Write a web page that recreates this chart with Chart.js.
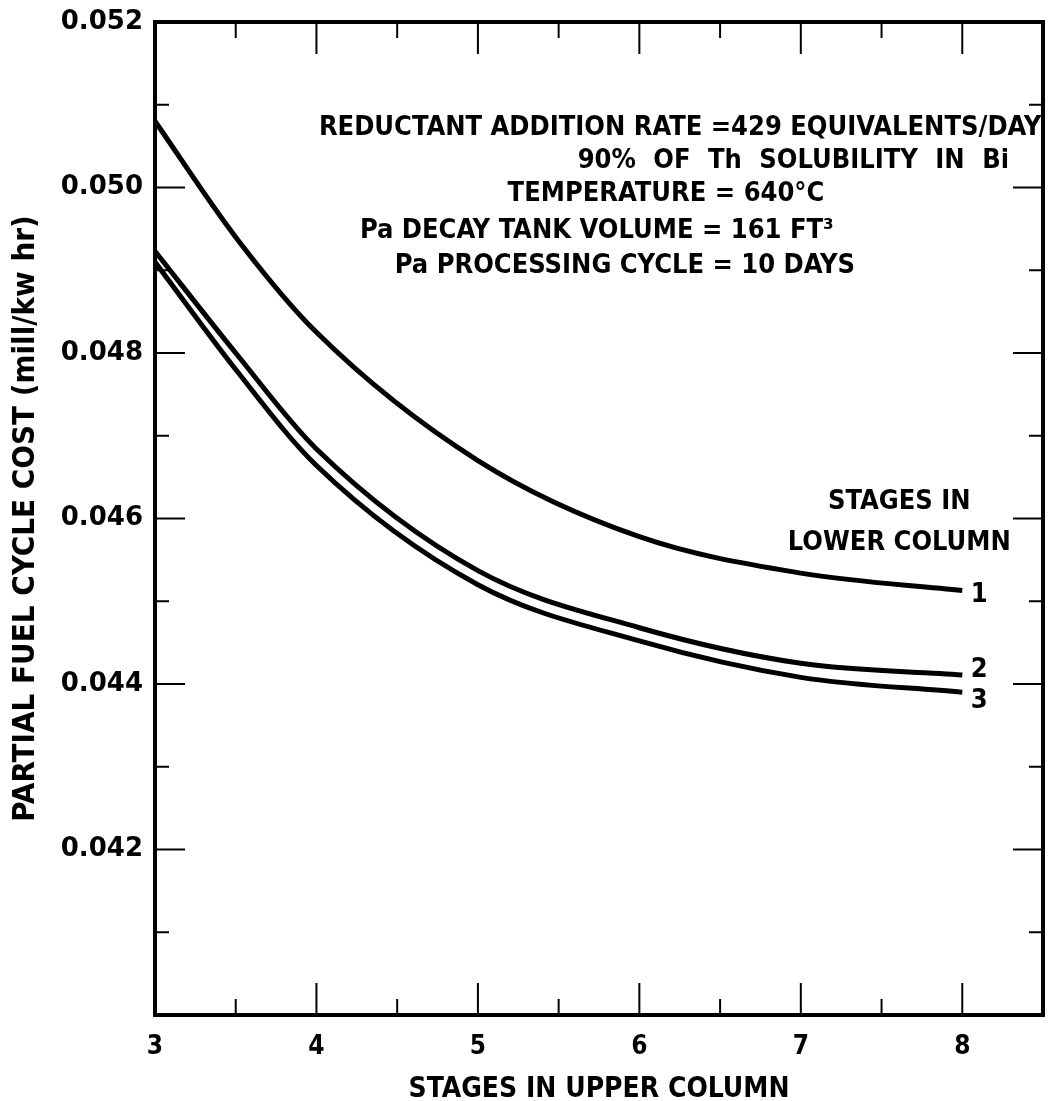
<!DOCTYPE html>
<html>
<head>
<meta charset="utf-8">
<script src="https://cdn.jsdelivr.net/npm/chart.js@4.4.0/dist/chart.umd.min.js"></script>
<style>
  html, body { margin: 0; padding: 0; background: #fff; }
  #wrap { width: 1050px; height: 1101px; position: relative; }
</style>
</head>
<body>
<div id="wrap"><canvas id="grafica"></canvas></div>
<script>
// === DATOS ===
const stagesUpper = [3, 3.5, 4, 5, 6, 7, 8];
const cost1 = [0.0508, 0.0494, 0.04825, 0.0467, 0.04578, 0.04534, 0.04513];
const cost2 = [0.04923, 0.0480, 0.04684, 0.04537, 0.04468, 0.04425, 0.04411];
const cost3 = [0.0491, 0.0478, 0.04664, 0.0452, 0.04452, 0.04408, 0.0439];
const curveLabels = ["1", "2", "3"];
const curveLabelX = [8.105, 8.105, 8.105];
const curveLabelY = [0.04507, 0.04417, 0.04379];

const noteLines = [
  "REDUCTANT ADDITION RATE =429 EQUIVALENTS/DAY",
  "90% OF Th SOLUBILITY IN Bi",
  "TEMPERATURE = 640°C",
  "Pa DECAY TANK VOLUME = 161 FT³",
  "Pa PROCESSING CYCLE = 10 DAYS"
];
const noteX = [4.015, 5.618, 5.184, 4.269, 4.485];
const noteY = [0.05072, 0.05032, 0.04992, 0.04947, 0.04905];

const legendTitle = ["STAGES IN", "LOWER COLUMN"];
const legendTitleX = 7.61;
const legendTitleY = [0.04620, 0.04570];

const FONT = '"DejaVu Sans Condensed", "DejaVu Sans", sans-serif';
const FONT_NUM = '"DejaVu Sans", sans-serif';

const toPoints = vals => stagesUpper.map((s, i) => ({ x: s, y: vals[i] }));

// marcas hacia dentro, marco y textos
const marcoPlugin = {
  id: "marco",
  afterDraw(chart) {
    const { ctx, chartArea: a, scales: { x, y } } = chart;
    ctx.save();
    ctx.strokeStyle = "#000";
    ctx.lineWidth = 2;
    const seg = (x1, y1, x2, y2) => {
      ctx.beginPath(); ctx.moveTo(x1, y1); ctx.lineTo(x2, y2); ctx.stroke();
    };
    x.ticks.forEach(t => {
      const px = x.getPixelForValue(t.value);
      if (px <= a.left + 2 || px >= a.right - 2) return;
      const len = Number.isInteger(t.value) ? 32 : 16;
      seg(px, a.bottom, px, a.bottom - len);
      seg(px, a.top, px, a.top + len);
    });
    y.ticks.forEach(t => {
      const py = y.getPixelForValue(t.value);
      if (py <= a.top + 2 || py >= a.bottom - 2) return;
      const len = Math.round(t.value * 1000) % 2 === 0 ? 30 : 14;
      seg(a.left, py, a.left + len, py);
      seg(a.right, py, a.right - len, py);
    });
    ctx.lineWidth = 4;
    ctx.strokeRect(a.left, a.top, a.width, a.height);

    ctx.fillStyle = "#000";
    ctx.textBaseline = "middle";
    ctx.font = "bold 27px " + FONT;
    ctx.textAlign = "left";
    noteLines.forEach((txt, i) => {
      // la segunda línea va más espaciada en el original
      ctx.wordSpacing = i === 1 ? "9px" : "0px";
      ctx.fillText(txt, x.getPixelForValue(noteX[i]), y.getPixelForValue(noteY[i]));
    });
    ctx.wordSpacing = "0px";
    ctx.textAlign = "center";
    legendTitle.forEach((txt, i) => {
      ctx.fillText(txt, x.getPixelForValue(legendTitleX), y.getPixelForValue(legendTitleY[i]));
    });
    curveLabels.forEach((txt, i) => {
      ctx.fillText(txt, x.getPixelForValue(curveLabelX[i]), y.getPixelForValue(curveLabelY[i]));
    });
    ctx.restore();
  }
};

const serie = vals => ({
  data: toPoints(vals),
  borderColor: "#000",
  borderWidth: 5,
  pointRadius: 0,
  fill: false,
  cubicInterpolationMode: "monotone"
});

new Chart(document.getElementById("grafica").getContext("2d"), {
  type: "line",
  data: { datasets: [serie(cost1), serie(cost2), serie(cost3)] },
  options: {
    responsive: true,
    maintainAspectRatio: false,
    animation: false,
    layout: { padding: { top: 22, right: 7, left: 0, bottom: 0 } },
    plugins: { legend: { display: false }, tooltip: { enabled: false } },
    scales: {
      x: {
        type: "linear",
        min: 3,
        max: 8.5,
        afterFit: s => { s.height = 86; s.paddingLeft = 0; s.paddingRight = 0; },
        grid: { display: false },
        border: { display: false },
        ticks: {
          stepSize: 0.5,
          autoSkip: false,
          maxRotation: 0,
          padding: 9,
          color: "#000",
          font: { family: FONT, size: 26, weight: "bold" },
          callback: v => (Number.isInteger(v) && v <= 8 ? String(v) : "")
        },
        title: {
          display: true,
          text: "STAGES IN UPPER COLUMN",
          color: "#000",
          font: { family: FONT, size: 28, weight: "bold", lineHeight: 0.8 },
          padding: { top: 0, bottom: 0 }
        }
      },
      y: {
        min: 0.040,
        max: 0.052,
        afterFit: s => { s.width = 155; s.paddingTop = 0; s.paddingBottom = 0; },
        grid: { display: false },
        border: { display: false },
        ticks: {
          stepSize: 0.001,
          autoSkip: false,
          padding: 4,
          color: "#000",
          font: { family: FONT_NUM, size: 26, weight: "bold" },
          callback: v => {
            const k = Math.round(v * 1000);
            return k % 2 === 0 && k > 40 ? "0.0" + k : "";
          }
        },
        title: {
          display: true,
          text: "PARTIAL FUEL CYCLE COST (mill/kw hr)",
          color: "#000",
          font: { family: FONT, size: 31, weight: "bold" },
          padding: { top: 7, bottom: 0 }
        }
      }
    }
  },
  plugins: [marcoPlugin]
});
</script>
</body>
</html>
